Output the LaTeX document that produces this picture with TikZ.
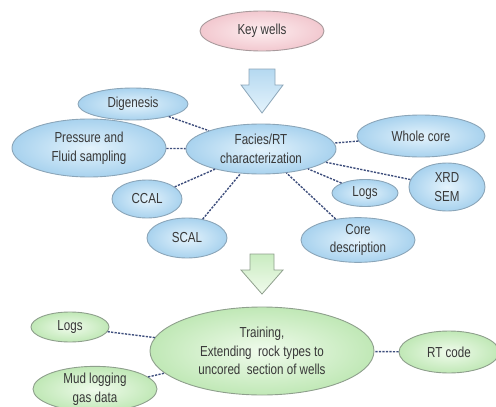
\documentclass[tikz,border=0pt]{standalone}
\usepackage{fontspec}
\setmainfont[FakeStretch=0.8]{Liberation Sans}
\usetikzlibrary{shapes.geometric,calc}
\definecolor{blueedge}{HTML}{8BA5B8}
\definecolor{bluein}{HTML}{E4F3FC}
\definecolor{blueout}{HTML}{A8D2EE}
\definecolor{greenedge}{HTML}{8E9F8C}
\definecolor{greenin}{HTML}{F0FBEC}
\definecolor{greenout}{HTML}{C0E8B6}
\definecolor{pinkedge}{HTML}{A89A9C}
\definecolor{pinkin}{HTML}{FDEEF0}
\definecolor{pinkout}{HTML}{F2C8CF}
\definecolor{dashcol}{HTML}{3E4E7C}
\definecolor{txt}{HTML}{383838}
\tikzset{
  ell/.style={ellipse, inner sep=0pt, line width=0.9pt, align=center, text=txt,
    font=\fontsize{14.5}{18.5}\selectfont},
  bluell/.style={ell, draw=blueedge, inner color=bluein, outer color=blueout},
  greenell/.style={ell, draw=greenedge, inner color=greenin, outer color=greenout},
  pinkell/.style={ell, draw=pinkedge, inner color=pinkin, outer color=pinkout},
  conn/.style={draw=dashcol, line width=1.4pt, dash pattern=on 2.2pt off 1.3pt},
  bluearrow/.style={draw=blueedge, line width=0.8pt, top color=blueout!85, bottom color=bluein},
  greenarrow/.style={draw=greenedge, line width=0.8pt, top color=greenout!85, bottom color=greenin},
}
\begin{document}
\begin{tikzpicture}[x=1pt,y=-1pt]
\useasboundingbox (0,0) rectangle (496,407);
% nodes
\node[pinkell, minimum width=124pt, minimum height=40pt] (key) at (262,31) {Key wells};
\node[bluell, minimum width=150pt, minimum height=50pt] (fac) at (261,149) {Facies/RT\\characterization};
\node[bluell, minimum width=110pt, minimum height=32pt] (dig) at (133,104) {Digenesis};
\node[bluell, minimum width=128pt, minimum height=42pt] (whole) at (421,136) {Whole core};
\node[bluell, minimum width=154pt, minimum height=58pt] (pres) at (89,148) {Pressure and\\Fluid sampling};
\node[bluell, minimum width=70pt, minimum height=38pt] (ccal) at (147,199) {CCAL};
\node[bluell, minimum width=80pt, minimum height=40pt] (scal) at (187,238) {SCAL};
\node[bluell, minimum width=66pt, minimum height=27pt] (logs1) at (365,193) {Logs};
\node[bluell, minimum width=76pt, minimum height=48pt] (xrd) at (447,187) {XRD\\SEM};
\node[bluell, minimum width=114pt, minimum height=44pt] (core) at (358,240) {Core\\description};
\node[greenell, minimum width=224pt, minimum height=88pt] (train) at (262,351) {Training,\\Extending\ \ rock types to\\uncored\ \ section of wells};
\node[greenell, minimum width=78pt, minimum height=30pt] (logs2) at (70,327) {Logs};
\node[greenell, minimum width=124pt, minimum height=44pt] (mud) at (95,389) {Mud logging\\gas data};
\node[greenell, minimum width=100pt, minimum height=42pt] (rt) at (449,352) {RT code};
% connectors
\draw[conn] (dig) -- (fac);
\draw[conn] (pres) -- (fac);
\draw[conn] (ccal) -- (fac);
\draw[conn] (scal) -- (fac);
\draw[conn] (logs1) -- (fac);
\draw[conn] (core) -- (fac);
\draw[conn] (xrd) -- (fac);
\draw[conn] (whole) -- (fac);
\draw[conn] (logs2) -- (train);
\draw[conn] (mud) -- (train);
\draw[conn] (rt) -- (train);
% block arrows
\coordinate (a1) at (262,69);
\coordinate (a2) at (262,254);
\path[bluearrow]
  ($(a1)+(-13,0)$) -- ++(26,0) -- ++(0,16) -- ++(8,0) -- ($(a1)+(0,44)$) -- ($(a1)+(-21,16)$) -- ++(8,0) -- cycle;
\path[greenarrow]
  ($(a2)+(-12,0)$) -- ++(24,0) -- ++(0,16) -- ++(9,0) -- ($(a2)+(0,40)$) -- ($(a2)+(-21,16)$) -- ++(9,0) -- cycle;
\end{tikzpicture}
\end{document}
